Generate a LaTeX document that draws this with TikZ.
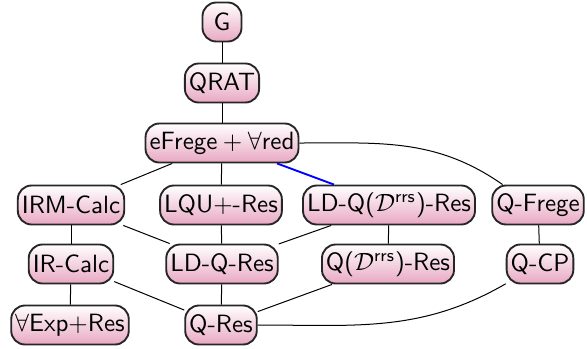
\documentclass[tikz,border=0pt]{standalone}
\usepackage{amsmath}
\usetikzlibrary{shadings}
\definecolor{nodepink}{RGB}{232,168,194}
\begin{document}
\begin{tikzpicture}[x=0.4pt,y=-0.4pt,
  pnode/.style={draw=black!85,line width=0.75pt,rounded corners=5.5pt,
    top color=white,bottom color=nodepink,inner xsep=1.6pt,inner ysep=0pt,
    minimum height=15.6pt,minimum width=15.6pt,font=\sffamily},
  conn/.style={line width=0.4pt,black}]
\useasboundingbox (0,0) rectangle (587,348);
\node[pnode] (g) at (222,22) {G};
\node[pnode] (qrat) at (222,83) {QRAT};
\node[pnode] (ef) at (222,143) {eFrege${}+\forall$red};
\node[pnode] (irm) at (71,205) {IRM-Calc};
\node[pnode] (lqu) at (221,205) {LQU$+$-Res};
\node[pnode] (ldqd) at (389,205) {LD-Q($\mathcal{D}^{\textsf{rrs}}$)-Res};
\node[pnode] (qf) at (538,205) {Q-Frege};
\node[pnode] (ir) at (71,264) {IR-Calc};
\node[pnode] (ldq) at (222,264) {LD-Q-Res};
\node[pnode] (qd) at (388,264) {Q($\mathcal{D}^{\textsf{rrs}}$)-Res};
\node[pnode] (qcp) at (540,264) {Q-CP};
\node[pnode] (exp) at (70,325) {$\forall$Exp$+$Res};
\node[pnode] (qres) at (221,325) {Q-Res};
\draw[conn] (g) -- (qrat);
\draw[conn] (qrat) -- (ef);
\draw[conn] (ef) -- (irm);
\draw[conn] (ef) -- (lqu);
\draw[line width=0.75pt,blue] (ef) -- (ldqd);
\draw[conn] (ef.east) to[out=0,in=145] (qf.150);
\draw[conn] (irm) -- (ir);
\draw[conn] (irm) -- (ldq);
\draw[conn] (lqu) -- (ldq);
\draw[conn] (ldqd) -- (ldq);
\draw[conn] (ldqd) -- (qd);
\draw[conn] (qf) -- (qcp);
\draw[conn] (ir) -- (exp);
\draw[conn] (ir) -- (qres);
\draw[conn] (ldq) -- (qres);
\draw[conn] (qd) -- (qres);
\draw[conn] (qres.east) to[out=0,in=-150] (qcp);
\end{tikzpicture}
\end{document}
